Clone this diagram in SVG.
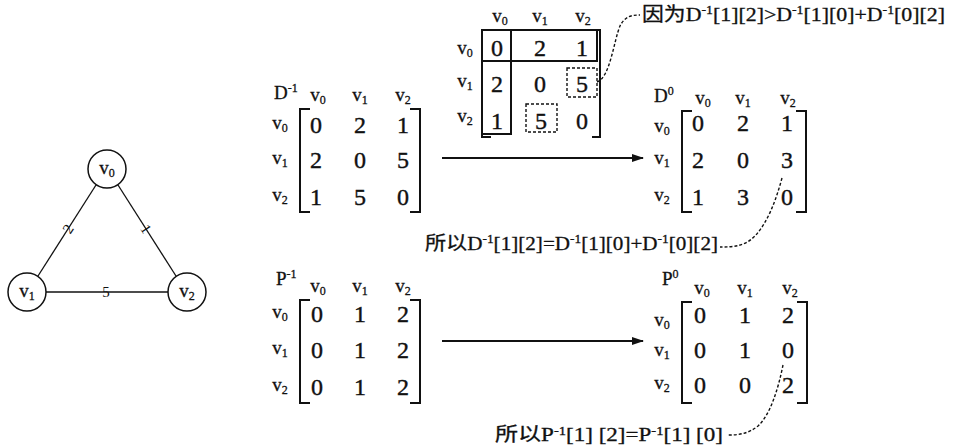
<svg xmlns="http://www.w3.org/2000/svg" width="954" height="447" viewBox="0 0 954 447">
<style>
text{font-family:"Liberation Serif","Noto Sans CJK SC",serif;fill:#111}
.d{font-size:24px;text-anchor:middle;stroke:#111;stroke-width:0.4}
.v{font-size:19px;text-anchor:middle;stroke:#111;stroke-width:0.3}
.s{font-size:12px}
.lbl{font-size:19px;stroke:#111;stroke-width:0.3}
.br{fill:none;stroke:#111;stroke-width:2}
.node circle{fill:#fff;stroke:#111;stroke-width:1.5}
.edge{stroke:#111;stroke-width:1.3}
.dash{fill:none;stroke:#111;stroke-width:1.4;stroke-dasharray:3,2}
.arr{stroke:#111;stroke-width:2;marker-end:url(#ah)}
.el{font-size:15px;text-anchor:middle}
</style>
<defs>
<marker id="ah" markerWidth="12" markerHeight="8" refX="11" refY="4" orient="auto" markerUnits="userSpaceOnUse">
<path d="M0,0 L12,4 L0,8 Z" fill="#111"/>
</marker>
</defs>
<rect width="954" height="447" fill="#fff"/>

<g id="connectors">
<line class="edge" x1="96" y1="185" x2="38" y2="276"/>
<line class="edge" x1="118" y1="185" x2="176" y2="276"/>
<line class="edge" x1="46" y1="292" x2="168" y2="292"/>
<text class="el" transform="translate(68,229) rotate(-57)" y="5">2</text>
<text class="el" transform="translate(146,229) rotate(57)" y="5">1</text>
<text class="el" x="106" y="297">5</text>
<line class="arr" x1="442" y1="158" x2="643" y2="158"/>
<line class="arr" x1="442" y1="341" x2="643" y2="341"/>
<path class="dash" d="M597,82 C610,78 614,40 620,26 C625,16 632,15 640,15"/>
<path class="dash" d="M782,178 C776,200 768,222 755,236 C745,246 735,247 720,247"/>
<path class="dash" d="M783,365 C778,390 770,415 758,426 C748,434 738,435 728,435"/>
</g>

<g id="v0" class="node"><circle cx="107" cy="169" r="19"/><text class="v" x="107" y="174">v<tspan class="s" dy="3">0</tspan></text></g>
<g id="v1" class="node"><circle cx="27" cy="292" r="19"/><text class="v" x="27" y="297">v<tspan class="s" dy="3">1</tspan></text></g>
<g id="v2" class="node"><circle cx="187" cy="292" r="19"/><text class="v" x="187" y="297">v<tspan class="s" dy="3">2</tspan></text></g>

<g id="Dm1">
<text class="lbl" x="274" y="99">D<tspan class="s" dy="-7">-1</tspan></text>
<text class="v" x="318" y="101">v<tspan class="s" dy="3">0</tspan></text>
<text class="v" x="360" y="101">v<tspan class="s" dy="3">1</tspan></text>
<text class="v" x="403" y="101">v<tspan class="s" dy="3">2</tspan></text>
<text class="v" x="280" y="129">v<tspan class="s" dy="3">0</tspan></text>
<text class="v" x="280" y="164">v<tspan class="s" dy="3">1</tspan></text>
<text class="v" x="280" y="201">v<tspan class="s" dy="3">2</tspan></text>
<path class="br" d="M310,109 H300 V212 H310"/>
<path class="br" d="M410,109 H420 V212 H410"/>
<text class="d" x="316" y="133">0</text><text class="d" x="360" y="133">2</text><text class="d" x="403" y="133">1</text>
<text class="d" x="316" y="168">2</text><text class="d" x="360" y="168">0</text><text class="d" x="403" y="168">5</text>
<text class="d" x="316" y="205">1</text><text class="d" x="360" y="205">5</text><text class="d" x="403" y="205">0</text>
</g>

<g id="Dtop">
<text class="v" x="500" y="22">v<tspan class="s" dy="3">0</tspan></text>
<text class="v" x="540" y="22">v<tspan class="s" dy="3">1</tspan></text>
<text class="v" x="583" y="22">v<tspan class="s" dy="3">2</tspan></text>
<text class="v" x="465" y="54">v<tspan class="s" dy="3">0</tspan></text>
<text class="v" x="465" y="87">v<tspan class="s" dy="3">1</tspan></text>
<text class="v" x="465" y="122">v<tspan class="s" dy="3">2</tspan></text>
<path class="br" d="M491,137 H482 V30 H600 V137 H592"/>
<rect class="br" x="482" y="30" width="115" height="31"/>
<rect class="br" x="482" y="30" width="29" height="104"/>
<rect class="dash" x="567" y="68" width="30" height="29"/>
<rect class="dash" x="526" y="104" width="31" height="28"/>
<text class="d" x="497" y="56">0</text><text class="d" x="540" y="56">2</text><text class="d" x="582" y="56">1</text>
<text class="d" x="497" y="92">2</text><text class="d" x="540" y="92">0</text><text class="d" x="582" y="92">5</text>
<text class="d" x="497" y="129">1</text><text class="d" x="541" y="129">5</text><text class="d" x="582" y="129">0</text>
</g>

<g id="D0">
<text class="lbl" x="654" y="102">D<tspan class="s" dy="-7">0</tspan></text>
<text class="v" x="703" y="104">v<tspan class="s" dy="3">0</tspan></text>
<text class="v" x="743" y="104">v<tspan class="s" dy="3">1</tspan></text>
<text class="v" x="788" y="104">v<tspan class="s" dy="3">2</tspan></text>
<text class="v" x="662" y="132">v<tspan class="s" dy="3">0</tspan></text>
<text class="v" x="662" y="164">v<tspan class="s" dy="3">1</tspan></text>
<text class="v" x="662" y="201">v<tspan class="s" dy="3">2</tspan></text>
<path class="br" d="M692,111 H682 V212 H692"/>
<path class="br" d="M796,111 H806 V212 H796"/>
<text class="d" x="698" y="131">0</text><text class="d" x="743" y="131">2</text><text class="d" x="787" y="131">1</text>
<text class="d" x="698" y="168">2</text><text class="d" x="743" y="168">0</text><text class="d" x="787" y="168">3</text>
<text class="d" x="698" y="205">1</text><text class="d" x="743" y="205">3</text><text class="d" x="787" y="205">0</text>
</g>

<g id="Pm1">
<text class="lbl" x="276" y="285">P<tspan class="s" dy="-7">-1</tspan></text>
<text class="v" x="318" y="292">v<tspan class="s" dy="3">0</tspan></text>
<text class="v" x="360" y="292">v<tspan class="s" dy="3">1</tspan></text>
<text class="v" x="403" y="292">v<tspan class="s" dy="3">2</tspan></text>
<text class="v" x="280" y="318">v<tspan class="s" dy="3">0</tspan></text>
<text class="v" x="280" y="354">v<tspan class="s" dy="3">1</tspan></text>
<text class="v" x="280" y="391">v<tspan class="s" dy="3">2</tspan></text>
<path class="br" d="M310,300 H300 V403 H310"/>
<path class="br" d="M410,300 H420 V403 H410"/>
<text class="d" x="317" y="322">0</text><text class="d" x="360" y="322">1</text><text class="d" x="403" y="322">2</text>
<text class="d" x="317" y="358">0</text><text class="d" x="360" y="358">1</text><text class="d" x="403" y="358">2</text>
<text class="d" x="317" y="395">0</text><text class="d" x="360" y="395">1</text><text class="d" x="403" y="395">2</text>
</g>

<g id="P0">
<text class="lbl" x="662" y="285">P<tspan class="s" dy="-7">0</tspan></text>
<text class="v" x="702" y="294">v<tspan class="s" dy="3">0</tspan></text>
<text class="v" x="745" y="294">v<tspan class="s" dy="3">1</tspan></text>
<text class="v" x="790" y="294">v<tspan class="s" dy="3">2</tspan></text>
<text class="v" x="662" y="326">v<tspan class="s" dy="3">0</tspan></text>
<text class="v" x="662" y="356">v<tspan class="s" dy="3">1</tspan></text>
<text class="v" x="662" y="389">v<tspan class="s" dy="3">2</tspan></text>
<path class="br" d="M692,302 H682 V403 H692"/>
<path class="br" d="M797,302 H807 V403 H797"/>
<text class="d" x="700" y="323">0</text><text class="d" x="745" y="323">1</text><text class="d" x="788" y="323">2</text>
<text class="d" x="700" y="358">0</text><text class="d" x="745" y="358">1</text><text class="d" x="788" y="358">0</text>
<text class="d" x="700" y="393">0</text><text class="d" x="745" y="393">0</text><text class="d" x="788" y="393">2</text>
</g>

<g id="notes">
<text class="lbl" x="642" y="21" textLength="303" lengthAdjust="spacingAndGlyphs">因为D<tspan class="s" dy="-7">-1</tspan><tspan dy="7">[1][2]&gt;D</tspan><tspan class="s" dy="-7">-1</tspan><tspan dy="7">[1][0]+D</tspan><tspan class="s" dy="-7">-1</tspan><tspan dy="7">[0][2]</tspan></text>
<text class="lbl" x="425" y="250" textLength="293" lengthAdjust="spacingAndGlyphs">所以D<tspan class="s" dy="-7">-1</tspan><tspan dy="7">[1][2]=D</tspan><tspan class="s" dy="-7">-1</tspan><tspan dy="7">[1][0]+D</tspan><tspan class="s" dy="-7">-1</tspan><tspan dy="7">[0][2]</tspan></text>
<text class="lbl" x="495" y="441" textLength="228" lengthAdjust="spacingAndGlyphs">所以P<tspan class="s" dy="-6">-1</tspan><tspan dy="6">[1] [2]=P</tspan><tspan class="s" dy="-6">-1</tspan><tspan dy="6">[1] [0]</tspan></text>
</g>
</svg>
